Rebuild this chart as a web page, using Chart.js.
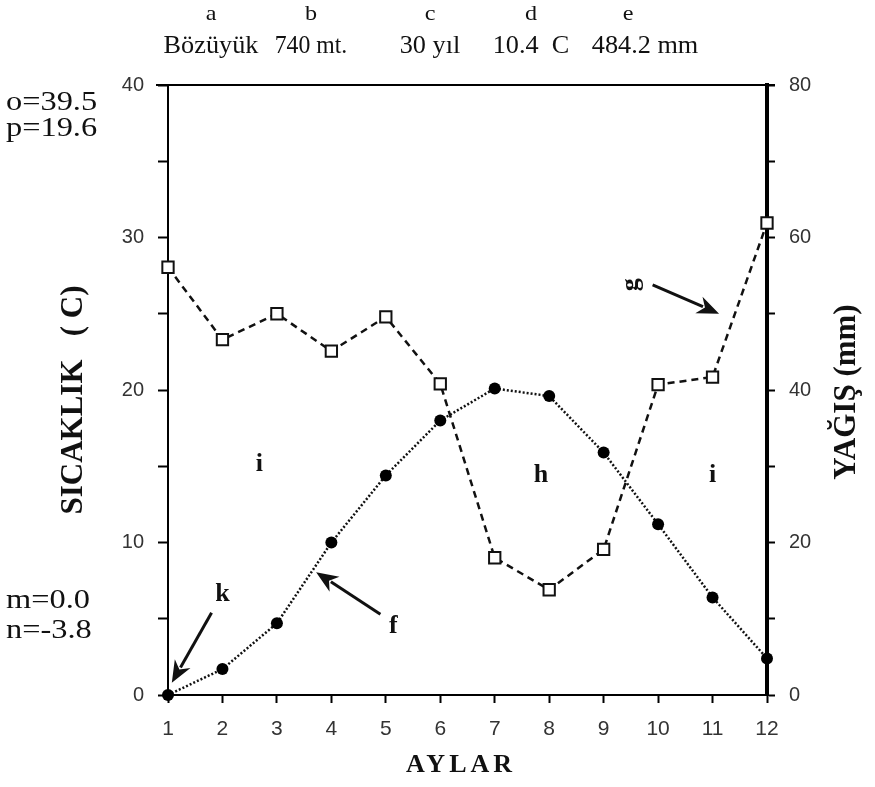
<!DOCTYPE html>
<html>
<head>
<meta charset="utf-8">
<script src="https://cdn.jsdelivr.net/npm/chart.js@4/dist/chart.umd.min.js"></script>
<style>
  html, body { margin: 0; padding: 0; background: #fff; }
</style>
</head>
<body>
<canvas id="chart__1" width="875" height="787"></canvas>
<script>
"use strict";

// values
const months = [1, 2, 3, 4, 5, 6, 7, 8, 9, 10, 11, 12];
const temperature = [0, 1.7, 4.7, 10.0, 14.4, 18.0, 20.1, 19.6, 15.9, 11.2, 6.4, 2.4];
const precipitation = [56.1, 46.6, 50.0, 45.1, 49.6, 40.8, 18.0, 13.8, 19.1, 40.7, 41.7, 61.9];

const headerKeys = ["a", "b", "c", "d", "e"];
const headerTexts = ["Bözüyük", "740 mt.", "30 yıl", "10.4  C", "484.2 mm"];
const notesTop = ["o=39.5", "p=19.6"];
const notesBottom = ["m=0.0", "n=-3.8"];

// letters in the plot, in data units (month, °C)
const areaLetters = [
  { text: "i", x: 2.68, y: 15.1 },
  { text: "h", x: 7.85, y: 14.4 },
  { text: "i", x: 11.0, y: 14.4 },
  { text: "k", x: 2.0, y: 6.6 },
  { text: "f", x: 5.14, y: 4.5 },
];
const arrows = [
  { from: [1.8, 5.4], to: [1.07, 0.8] },
  { from: [4.9, 5.3], to: [3.72, 8.05] },
  { from: [9.9, 26.9], to: [11.12, 25.0] },
];

const serif = "'Liberation Serif', 'DejaVu Serif', serif";
const sans = "'Liberation Sans', 'DejaVu Sans', sans-serif";

function drawArrow(ctx, x0, y0, x1, y1) {
  const ang = Math.atan2(y1 - y0, x1 - x0);
  const head = 22;
  const hw = 9;
  ctx.save();
  ctx.strokeStyle = "#111";
  ctx.fillStyle = "#111";
  ctx.lineWidth = 3;
  ctx.beginPath();
  ctx.moveTo(x0, y0);
  ctx.lineTo(x1 - Math.cos(ang) * head * 0.8, y1 - Math.sin(ang) * head * 0.8);
  ctx.stroke();
  ctx.beginPath();
  ctx.moveTo(x1, y1);
  ctx.lineTo(x1 - Math.cos(ang) * head - Math.sin(ang) * hw, y1 - Math.sin(ang) * head + Math.cos(ang) * hw);
  ctx.lineTo(x1 - Math.cos(ang) * head * 0.7, y1 - Math.sin(ang) * head * 0.7);
  ctx.lineTo(x1 - Math.cos(ang) * head + Math.sin(ang) * hw, y1 - Math.sin(ang) * head - Math.cos(ang) * hw);
  ctx.closePath();
  ctx.fill();
  ctx.restore();
}

// text stretched a little in width, like the scanned original
function wideText(ctx, text, x, y, sx) {
  ctx.save();
  ctx.translate(x, y);
  ctx.scale(sx, 1);
  ctx.fillText(text, 0, 0);
  ctx.restore();
}

const decorPlugin = {
  id: "decor",
  afterDraw(chart) {
    const ctx = chart.ctx;
    const area = chart.chartArea;
    const xs = chart.scales.x;
    const ys = chart.scales.y;

    // top frame line
    ctx.save();
    ctx.strokeStyle = "#000";
    ctx.lineWidth = 2;
    ctx.beginPath();
    ctx.moveTo(area.left - 12, area.top);
    ctx.lineTo(area.right + 8, area.top);
    ctx.stroke();

    // header
    ctx.fillStyle = "#111";
    ctx.textAlign = "center";
    ctx.textBaseline = "middle";
    const headerX = [211, 311, 430, 531, 645];
    ctx.font = "22px " + serif;
    headerKeys.forEach((k, i) => wideText(ctx, k, headerX[i] - (i === 4 ? 17 : 0), 14, 1.1));
    ctx.font = "25px " + serif;
    headerTexts.forEach((t, i) => wideText(ctx, t, headerX[i], 46, i === 1 ? 0.95 : 1.05));

    // side notes
    ctx.textAlign = "left";
    ctx.font = "27px " + serif;
    notesTop.forEach((t, i) => wideText(ctx, t, 6, 103 + i * 26, 1.2));
    notesBottom.forEach((t, i) => wideText(ctx, t, 6, 601 + i * 30, 1.2));

    // axis titles
    ctx.font = "bold 31px " + serif;
    ctx.textAlign = "center";
    ctx.save();
    ctx.translate(74, 400);
    ctx.rotate(-Math.PI / 2);
    ctx.fillText("SICAKLIK   ( C)", 0, 0);
    ctx.restore();
    ctx.save();
    ctx.translate(847, 392);
    ctx.rotate(-Math.PI / 2);
    ctx.fillText("YAĞIŞ (mm)", 0, 0);
    ctx.restore();
    ctx.font = "bold 26px " + serif;
    ctx.letterSpacing = "4px";
    ctx.fillText("AYLAR", 461, 765);
    ctx.letterSpacing = "0px";

    // letters inside the plot
    ctx.font = "bold 26px " + serif;
    areaLetters.forEach((l) => ctx.fillText(l.text, xs.getPixelForValue(l.x), ys.getPixelForValue(l.y)));
    ctx.save();
    ctx.translate(xs.getPixelForValue(9.5), ys.getPixelForValue(26.9));
    ctx.rotate(-Math.PI / 2);
    ctx.fillText("g", 0, 0);
    ctx.restore();

    arrows.forEach((a) =>
      drawArrow(ctx, xs.getPixelForValue(a.from[0]), ys.getPixelForValue(a.from[1]),
        xs.getPixelForValue(a.to[0]), ys.getPixelForValue(a.to[1])));
    ctx.restore();
  },
};

const chartSelector__1 = document.getElementById("chart__1").getContext("2d");

const chartConfig = {
  type: "line",
  data: {
    labels: months,
    datasets: [
      {
        label: "YAĞIŞ",
        data: months.map((m, i) => ({ x: m, y: precipitation[i] })),
        borderColor: "#111",
        borderWidth: 2.5,
        borderDash: [7, 5],
        pointStyle: "rect",
        pointRadius: 8,
        pointBorderWidth: 2,
        pointBorderColor: "#111",
        pointBackgroundColor: "#fff",
        yAxisID: "y1",
        clip: false,
      },
      {
        label: "SICAKLIK",
        data: months.map((m, i) => ({ x: m, y: temperature[i] })),
        borderColor: "#111",
        borderWidth: 2.5,
        borderDash: [2, 2],
        pointStyle: "circle",
        pointRadius: 6,
        pointBorderWidth: 0,
        pointBackgroundColor: "#000",
        yAxisID: "y",
        clip: false,
      },
    ],
  },
  options: {
    responsive: false,
    animation: false,
    events: [],
    layout: { padding: { top: 85, left: 0, right: 0, bottom: 0 } },
    plugins: {
      legend: { display: false },
      tooltip: { enabled: false },
    },
    elements: { line: { tension: 0 } },
    scales: {
      x: {
        type: "linear",
        min: 1,
        max: 12,
        afterFit: (scale) => { scale.height = 92; },
        border: { color: "#000", width: 2 },
        grid: { drawOnChartArea: false, color: "#000", tickLength: 8, tickWidth: 2 },
        ticks: { stepSize: 1, color: "#333", padding: 14, font: { family: sans, size: 21 } },
      },
      y: {
        position: "left",
        min: 0,
        max: 40,
        afterFit: (scale) => { scale.width = 168; },
        border: { color: "#000", width: 2 },
        grid: { drawOnChartArea: false, color: "#000", tickLength: 10, tickWidth: 2 },
        ticks: {
          stepSize: 5,
          color: "#333",
          padding: 14,
          font: { family: sans, size: 20 },
          callback: (v) => (v % 10 === 0 ? v : ""),
        },
      },
      y1: {
        position: "right",
        min: 0,
        max: 80,
        afterFit: (scale) => { scale.width = 108; },
        border: { color: "#000", width: 4 },
        grid: { drawOnChartArea: false, color: "#000", tickLength: 8, tickWidth: 2 },
        ticks: {
          stepSize: 10,
          color: "#333",
          padding: 14,
          font: { family: sans, size: 20 },
          callback: (v) => (v % 20 === 0 ? v : ""),
        },
      },
    },
  },
  plugins: [decorPlugin],
};

const chart__1 = new Chart(chartSelector__1, chartConfig);
</script>
</body>
</html>
